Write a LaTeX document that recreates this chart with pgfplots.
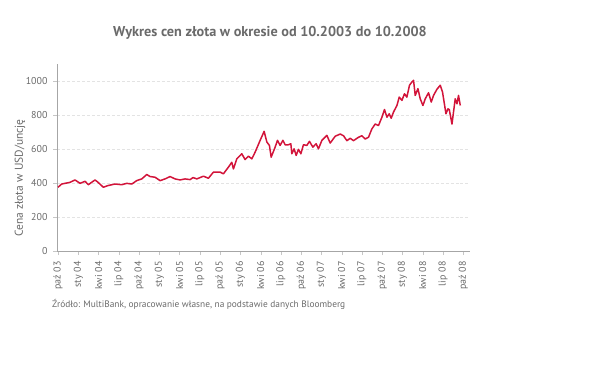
\documentclass[border=0pt]{standalone}
\usepackage{fontspec}
\setmainfont{PT Sans}
\usepackage{pgfplots}
\pgfplotsset{compat=1.18}
\definecolor{goldline}{HTML}{D2143A}
\definecolor{txt}{HTML}{6A6A6A}
\begin{document}
\begin{tikzpicture}[x=1bp,y=1bp]
\path[use as bounding box] (0,0) rectangle (600,375);
\begin{axis}[at={(57bp,124bp)}, anchor=south west, scale only axis,
  width=413bp, height=187bp,
  xmin=-0.15, xmax=61, ymin=0, ymax=1100,
  axis lines=left, axis line style={-, color=gray!70, line width=0.8bp},
  ytick={0,200,...,1000}, xtick={0,3,...,60},
  xticklabels={paź 03,sty 04,kwi 04,lip 04,paź 04,sty 05,kwi 05,lip 05,paź 05,sty 06,kwi 06,lip 06,paź 06,sty 07,kwi 07,lip 07,paź 07,sty 08,kwi 08,lip 08,paź 08},
  ymajorgrids, grid style={densely dashed, color=gray!22},
  tick align=outside, major tick length=4bp,
  tick style={color=gray!45},
  xticklabel shift={3bp}, yticklabel shift={2bp},
  x tick label style={rotate=90, anchor=east, font=\fontsize{10}{10}\selectfont, text=txt},
  y tick label style={font=\fontsize{10}{10}\selectfont, text=txt},
  /pgf/number format/assume math mode=true,
  /pgf/number format/set thousands separator={},
]
\addplot[goldline, line width=1.5bp, line join=round] coordinates {
(0,375) (0.55,394) (1.78,404) (2.52,418) (3.26,398) (4.0,410) (4.49,390) (5.48,418) (5.93,404)
(6.71,375) (7.41,385) (8.44,394) (9.44,390) (10.18,398) (10.92,394) (11.66,414) (12.4,424)
(13.14,450) (13.63,438) (14.37,434) (15.11,414) (15.85,424) (16.59,438) (17.33,424) (18.07,418)
(18.81,424) (19.56,420) (20.0,432) (20.55,424) (21.53,440) (22.27,428) (23.01,464) (24.0,464)
(24.49,454) (25.23,493) (25.73,522) (25.97,483) (26.47,542) (27.21,572) (27.7,538) (28.19,558)
(28.7,542) (29.19,582) (29.93,651) (30.52,704) (30.92,641) (31.3,621) (31.56,552) (32.15,611)
(32.49,651) (32.89,621) (33.29,651) (33.63,625) (34.12,625) (34.47,631) (34.62,572) (34.96,601)
(35.26,562) (35.6,598) (35.96,572) (36.34,625) (36.84,621) (37.23,645) (37.73,611) (38.22,631)
(38.56,601) (39.07,651) (39.81,680) (40.3,635) (41.04,675) (41.78,688) (42.27,678) (42.77,649)
(43.26,663) (43.75,649) (44.49,669) (44.99,678) (45.48,659) (45.97,669) (46.47,718) (46.96,747)
(47.45,738) (47.96,787) (48.34,832) (48.7,787) (49.04,807) (49.33,781) (49.67,817) (50.18,856)
(50.52,905) (50.92,886) (51.3,925) (51.65,905) (52.04,975) (52.4,994) (52.64,1004) (52.89,915)
(53.29,955) (53.63,895) (54.03,856) (54.37,895) (54.86,931) (55.26,876) (55.6,915) (56.1,951)
(56.59,975) (56.93,935) (57.44,807) (57.73,836) (57.93,832) (58.33,747) (58.81,895) (59.07,866)
(59.3,915) (59.56,856)
};
\end{axis}
\node[text=txt, font=\bfseries\fontsize{14.3}{14.3}\selectfont] at (270,342) {Wykres cen złota w okresie od 10.2003 do 10.2008};
\node[rotate=90, text=txt, font=\fontsize{11.5}{11.5}\selectfont] at (20,197) {Cena złota w USD/uncję};
\node[anchor=west, text=txt, font=\fontsize{9.4}{9.4}\selectfont, inner sep=0pt] at (52,71) {Źródło: MultiBank, opracowanie własne, na podstawie danych Bloomberg};
\end{tikzpicture}
\end{document}
